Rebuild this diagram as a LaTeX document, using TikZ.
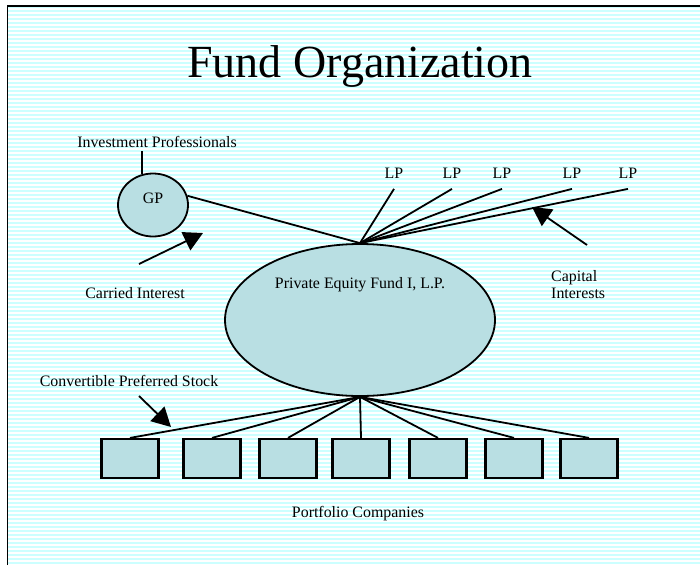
\documentclass[tikz,border=0pt]{standalone}
\usepackage{fontspec}
\setmainfont{Liberation Serif}
\usetikzlibrary{shapes.geometric,arrows.meta,positioning}
\definecolor{slidecyan}{RGB}{204,255,255}
\definecolor{boxfill}{RGB}{185,223,227}

\begin{document}
\begin{tikzpicture}[x=1pt, y=-1pt, line width=1.8pt, font=\fontsize{15.9}{17}\selectfont]
\tikzstyle{oval} = [ellipse, draw, fill=boxfill, inner sep=0pt]
\tikzstyle{company} = [rectangle, draw, line width=2.2pt, fill=boxfill, minimum width=57pt, minimum height=39pt, inner sep=0pt]
\tikzstyle{lplabel} = [inner xsep=0pt, inner ysep=10pt, anchor=base]
\tikzstyle{bigarrow} = [-{Triangle[length=19pt,width=20pt]}]

\useasboundingbox (0,0) rectangle (700,565);
\fill[slidecyan] (8,7) rectangle (700,565);
\foreach \y in {9,13,...,565}
  \draw[white, line width=1.2pt] (8,\y) -- (700,\y);
\draw (7.5,565) -- (7.5,6) -- (700,6);

\node[anchor=base, font=\fontsize{46}{50}\selectfont] (title) at (360,77) {Fund Organization};

\node[oval, minimum width=70pt, minimum height=63pt, text depth=14pt] (gp) at (153,205) {GP};
\node[anchor=base] (invpro) at (157,147) {Investment Professionals};
\draw (gp.109) -- (gp.109 |- invpro.south);

\node[oval, minimum width=270pt, minimum height=152pt] (fund) at (360,320) {};
\node[below=30pt of fund.north] (fundname) {Private Equity Fund I, L.P.};
\draw (gp.15) -- (fund.north);

\foreach \x [count=\i] in {394,452,502,572,628} {
  \node[lplabel] (lp\i) at (\x,178) {LP};
  \draw (fund.north) -- (lp\i.south);
}

\node[anchor=base] (carried) at (135,298) {Carried Interest};
\coordinate (carriedtail) at (139,264);
\coordinate (carriedtip) at (203,233);
\draw[bigarrow] (carriedtail) -- (carriedtip);

\node[anchor=west, align=left] (capital) at (547,285) {Capital\\Interests};
\coordinate (capitaltail) at (587,245);
\coordinate (capitaltip) at (532,207);
\draw[bigarrow] (capitaltail) -- (capitaltip);

\node[anchor=base] (convert) at (129,386) {Convertible Preferred Stock};
\coordinate (converttail) at (139,396);
\coordinate (converttip) at (171,427);
\draw[bigarrow] (converttail) -- (converttip);

\foreach \x [count=\i] in {130,212,288,361,438,514,589} {
  \node[company] (co\i) at (\x,458.5) {};
  \draw (fund.south) -- (co\i.north);
}
\node[anchor=base] (portfolio) at (358,517.5) {Portfolio Companies};

\end{tikzpicture}
\end{document}
